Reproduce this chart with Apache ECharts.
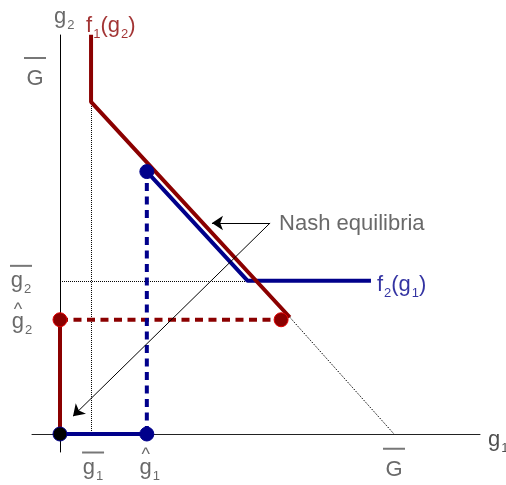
<!DOCTYPE html>
<html>
<head>
<meta charset="utf-8">
<script src="https://cdn.jsdelivr.net/npm/echarts@6/dist/echarts.min.js"></script>
<style>
  html, body { margin: 0; padding: 0; background: #fff; }
  #main { width: 506px; height: 485px; }
</style>
</head>
<body>
<div id="main"></div>
<script>
// units: budget G = 10 on both axes
var G = 10;
var gBar1 = 0.93, gBar2 = 4.29;   // kinks of the best responses
var gHat1 = 2.6, gHat2 = 3.2;     // corner equilibria

// best response curves
var f1Points = [[0.93, 11.18], [0.93, 9.30], [6.88, 3.27]];
var f2Points = [[2.6, 7.35], [5.62, 4.29], [9.31, 4.29]];

// equilibrium segments and dots
var redAxis = [[0, 0], [0, 3.2]];
var blueAxis = [[0, 0], [2.6, 0]];
var redDashed = [[0, 3.2], [6.62, 3.2]];
var blueDashed = [[2.6, 0], [2.6, 7.35]];
var redDots = [[0, 3.2], [6.62, 3.2]];
var blueDots = [[2.6, 7.35], [2.6, 0]];
var blackDots = [[0, 0]];

// thin dotted guides
var guideV = [[0.943, 9.30], [0.943, 0]];
var guideH = [[0, 4.272], [5.62, 4.272]];
var guideD = [[6.88, 3.27], [10, 0]];

// arrows from the caption
var arrowFrom = [6.29, 5.91];
var arrowTips = [[4.55, 5.91], [0.39, 0.5]];

var caption = 'Nash equilibria';

var GREY = '#444';
var RED = '#8b0000';
var BLUE = '#00008b';
var FONT = '"Liberation Sans", Arial, sans-serif';

var rich = {
  t: { fontSize: 22, lineHeight: 14, verticalAlign: 'top' },
  s: { fontSize: 13, lineHeight: 13, verticalAlign: 'top', padding: [13, 0, 0, 1] },
  bar: { fontSize: 2, lineHeight: 2, height: 2, width: 22, backgroundColor: '#555' },
  gap: { fontSize: 2, lineHeight: 9 },
  gap2: { fontSize: 2, lineHeight: 3 },
  hat: { fontSize: 18, lineHeight: 2, padding: [0, 8, 0, 0] }
};

function seg(points, color, width, type, z) {
  return {
    type: 'line', data: points, symbol: 'none', silent: true, z: z,
    lineStyle: { color: color, width: width, type: type }
  };
}

function dots(points, fill, border) {
  return {
    type: 'scatter', data: points, symbolSize: 14, z: 6, silent: true,
    itemStyle: { color: fill, borderColor: border, borderWidth: 1, opacity: 1 }
  };
}

function tag(pt, text, color, dx, dy, align, vAlign) {
  return {
    value: pt,
    label: {
      show: true, position: 'inside', formatter: text, color: color,
      fontFamily: FONT, align: align, verticalAlign: vAlign,
      offset: [dx, dy], rich: rich
    }
  };
}

var chart = echarts.init(document.getElementById('main'));

chart.setOption({
  animation: false,
  grid: { left: 32, right: 26, top: 35, bottom: 33 },
  xAxis: {
    type: 'value', min: -0.838, max: 12.575,
    axisLine: { onZero: true, lineStyle: { color: '#222', width: 1 } },
    axisTick: { show: false }, axisLabel: { show: false }, splitLine: { show: false }
  },
  yAxis: {
    type: 'value', min: -0.504, max: 11.176,
    axisLine: { onZero: true, lineStyle: { color: '#000', width: 1 } },
    axisTick: { show: false }, axisLabel: { show: false }, splitLine: { show: false }
  },
  series: [
    seg(guideV, '#000', 1, [1, 1], 1),
    seg(guideH, '#000', 1, [1, 1], 1),
    seg(guideD, '#000', 1, [1.5, 1.5], 1),
    seg(redDashed, RED, 4, [8, 5.5], 2),
    seg(blueDashed, BLUE, 4, [8, 5.5], 2),
    seg(f2Points, BLUE, 4, 'solid', 3),
    seg(blueAxis, BLUE, 4, 'solid', 3),
    seg(f1Points, RED, 4, 'solid', 4),
    seg(redAxis, RED, 4, 'solid', 4),
    {
      type: 'lines', coordinateSystem: 'cartesian2d', z: 5, silent: true,
      symbol: ['none', 'arrow'], symbolSize: 11,
      lineStyle: { color: '#000', width: 1, opacity: 1 },
      data: arrowTips.map(function (tip) { return { coords: [arrowFrom, tip] }; })
    },
    dots(redDots, RED, '#e00000'),
    dots(blueDots, BLUE, BLUE),
    dots(blackDots, '#000', BLUE),
    {
      type: 'scatter', symbolSize: 1, z: 7, silent: true,
      itemStyle: { color: 'rgba(0,0,0,0)' },
      data: [
        tag([0, 11.176], '{t|g}{s|2}', GREY, -6, -29.5, 'left', 'top'),
        tag([gBar1, 11.176], '{t|f}{s|1}{t|(g}{s|2}{t|)}', RED, -5, -20, 'left', 'top'),
        tag([0, G], '{bar| }\n{gap| }\n{t|G}', GREY, -25, -20, 'center', 'top'),
        tag([0, gBar2], '{bar| }\n{gap2| }\n{t|g}{s|2}', GREY, -39, -16, 'center', 'top'),
        tag([0, gHat2], '{hat|^}\n{t|g}{s|2}', GREY, -38, -11, 'center', 'top'),
        tag([gBar1, 0], '{bar| }\n{gap2| }\n{t|g}{s|1}', GREY, 2, 17.5, 'center', 'top'),
        tag([gHat1, 0], '{hat|^}\n{t|g}{s|1}', GREY, 3, 20.5, 'center', 'top'),
        tag([G, 0], '{bar| }\n{gap| }\n{t|G}', GREY, 0, 13.75, 'center', 'top'),
        tag([12.575, 0], '{t|g}{s|1}', '#222', 8, -5, 'left', 'top'),
        tag(f2Points[2], '{t|f}{s|2}{t|(g}{s|1}{t|)}', BLUE, 6, -6.5, 'left', 'top'),
        {
          value: arrowFrom,
          label: {
            show: true, position: 'inside', formatter: caption, color: GREY,
            fontFamily: FONT, fontSize: 22, align: 'left', verticalAlign: 'middle',
            offset: [9, 1]
          }
        }
      ]
    }
  ]
});
</script>
</body>
</html>
